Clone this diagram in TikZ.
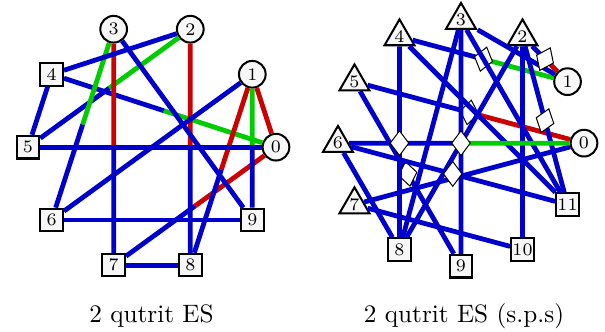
\documentclass[tikz,border=0pt]{standalone}
\usetikzlibrary{shapes.geometric,calc}

\definecolor{eblue}{RGB}{0,0,205}
\definecolor{ered}{RGB}{205,0,0}
\definecolor{egreen}{RGB}{0,205,0}

\tikzset{
  vtx/.style={draw=black, thick, fill=black!3, inner sep=0pt, font=\scriptsize},
  cnode/.style={vtx, circle, minimum size=10.6pt},
  snode/.style={vtx, rectangle, minimum size=9pt},
  tnode/.style={vtx, regular polygon, regular polygon sides=3, minimum size=13.7pt},
  dmd/.style={draw=black, thin, fill=white, diamond, inner sep=0pt, minimum width=7.5pt, minimum height=10pt},
  bl/.style={eblue, line width=1.9pt},
  rd/.style={ered, line width=1.9pt},
  gr/.style={egreen, line width=1.9pt},
}

\begin{document}
\begin{tikzpicture}
\useasboundingbox (0,0) rectangle (8.44,4.62);

% Left graph: vertices on a circle
\begin{scope}[shift={(2.12,2.567)}]
  \foreach \i in {0,...,3} \node[cnode] (l\i) at (\i*36:1.73) {\i};
  \foreach \i in {4,...,9} \node[snode] (l\i) at (\i*36:1.73) {\i};
\end{scope}

% Left graph: two-colour edges, split at the middle
\draw[rd] (l0) -- (l1);
\draw[gr] (l0) -- ($(l0)!0.5!(l4)$); \draw[bl] ($(l0)!0.5!(l4)$) -- (l4);
\draw[rd] (l0) -- ($(l0)!0.5!(l7)$); \draw[bl] ($(l0)!0.5!(l7)$) -- (l7);
\draw[rd] (l1) -- ($(l1)!0.5!(l8)$); \draw[bl] ($(l1)!0.5!(l8)$) -- (l8);
\draw[gr] (l1) -- ($(l1)!0.5!(l9)$); \draw[bl] ($(l1)!0.5!(l9)$) -- (l9);
\draw[gr] (l2) -- ($(l2)!0.5!(l5)$); \draw[bl] ($(l2)!0.5!(l5)$) -- (l5);
\draw[rd] (l2) -- ($(l2)!0.5!(l8)$); \draw[bl] ($(l2)!0.5!(l8)$) -- (l8);
\draw[gr] (l3) -- ($(l3)!0.5!(l6)$); \draw[bl] ($(l3)!0.5!(l6)$) -- (l6);
\draw[rd] (l3) -- ($(l3)!0.5!(l7)$); \draw[bl] ($(l3)!0.5!(l7)$) -- (l7);

% Left graph: blue edges
\draw[bl] (l0) -- (l5);
\draw[bl] (l1) -- (l6);
\draw[bl] (l2) -- (l4);
\draw[bl] (l3) -- (l9);
\draw[bl] (l4) -- (l5);
\draw[bl] (l6) -- (l9);
\draw[bl] (l7) -- (l8);

% Right graph: vertices on a circle
\begin{scope}[shift={(6.431,2.623)}]
  \foreach \i in {0,1} \node[cnode] (r\i) at (\i*30:1.716) {\i};
  \foreach \i in {2,...,7} \node[tnode] (r\i) at (\i*30:1.716) {\i};
  \foreach \i in {8,...,11} \node[snode] (r\i) at (\i*30:1.716) {\i};
\end{scope}

% Right graph: marked edges lying under the others
\coordinate (m05) at ($(r0)!0.5!(r5)$);
\draw[rd] (r0) -- (m05); \draw[bl] (m05) -- (r5);
\node[dmd, rotate=-10] (d05) at (m05) {};
\coordinate (m14) at ($(r1)!0.5!(r4)$);
\draw[gr] (r1) -- (m14); \draw[bl] (m14) -- (r4);
\node[dmd, rotate=-15] (d14) at (m14) {};

% Right graph: blue edges
\draw[bl] (r0) -- (r7);
\draw[bl] (r1) -- (r3);
\draw[bl] (r2) -- (r8);
\draw[bl] (r2) -- (r10);
\draw[bl] (r3) -- (r8);
\draw[bl] (r3) -- (r9);
\draw[bl] (r3) -- (r11);
\draw[bl] (r4) -- (r11);
\draw[bl] (r6) -- (r8);
\draw[bl] (r7) -- (r10);

% Right graph: remaining marked edges
\coordinate (m12) at ($(r1)!0.5!(r2)$);
\draw[rd] (r1) -- (m12); \draw[bl] (m12) -- (r2);
\node[dmd, rotate=-25] (d12) at (m12) {};
\draw[bl] (r2) -- (r11);
\node[dmd, rotate=-18] (d211) at ($(r2)!0.5!(r11)$) {};
\draw[bl] (r5) -- (r9);
\node[dmd, rotate=10] (d59) at ($(r5)!0.5!(r9)$) {};
\draw[bl] (r6) -- (r11);
\node[dmd] (d611) at ($(r6)!0.5!(r11)$) {};
\coordinate (m06) at ($(r0)!0.5!(r6)$);
\draw[gr] (r0) -- (m06); \draw[bl] (m06) -- (r6);
\node[dmd] (d06) at (m06) {};
\draw[bl] (r4) -- (r8);
\node[dmd] (d48) at ($(r4)!0.5!(r8)$) {};

% Captions
\node[anchor=base] (capl) at (2.113,0.12) {2 qutrit ES};
\node[anchor=base] (capr) at (6.473,0.12) {2 qutrit ES (s.p.s)};
\end{tikzpicture}
\end{document}
